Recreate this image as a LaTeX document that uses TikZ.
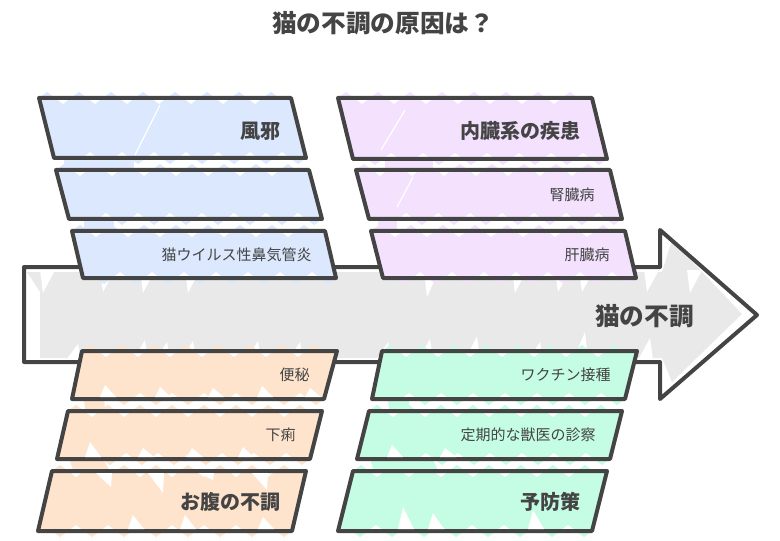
\documentclass[tikz,border=0pt]{standalone}
\usepackage{fontspec}
\setmainfont{Noto Sans CJK JP}
\usetikzlibrary{decorations.pathmorphing}
\definecolor{inkgray}{HTML}{444444}
\definecolor{coldblue}{HTML}{DBE8FE}
\definecolor{organpurple}{HTML}{F3E1FD}
\definecolor{bellyorange}{HTML}{FEE3CD}
\definecolor{caregreen}{HTML}{C5FDE4}
\definecolor{spinegray}{HTML}{E9E9E9}
\tikzset{
	scribble/.style={decorate,decoration={zigzag,segment length=24,amplitude=4.6}},
	outline/.style={draw=inkgray,line width=3pt,line join=round},
	headtext/.style={text=inkgray,font=\bfseries\fontsize{15}{15}\selectfont,anchor=east,inner sep=0pt},
	leaftext/.style={text=inkgray,font=\fontsize{11.25}{11.25}\selectfont,anchor=east,inner sep=0pt},
	gapline/.style={draw=white,line width=.9pt},
}
% one slanted box: colour, then corners tl tr br bl
\newcommand{\slantbox}[5]{
	\fill[white] #2 -- #3 -- #4 -- #5 -- cycle;
	\fill[#1] #2 decorate[scribble]{-- #3} -- #4 decorate[scribble]{-- #5} -- cycle;
	\draw[outline] #2 -- #3 -- #4 -- #5 -- cycle;
}
\begin{document}
\begin{tikzpicture}[x=.75pt,y=-.75pt]
	\useasboundingbox (0,0) rectangle (780,541);
	\node[text=inkgray,font=\bfseries\fontsize{18.5}{18.5}\selectfont,inner sep=0pt] (title) at (383,23) {猫の不調の原因は？};
	% spine
	\fill[spinegray] (27,272) -- (662,272) -- (672,240) -- (742,314) -- (672,382) -- (662,358) -- (40,358) -- (40,292) -- cycle;
	\foreach \x/\y in {43/293,103/292,143/293,188/293,427/297,515/293,558/292,582/292,647/292,690/293}
		\fill[white] (\x,\y) -- (\x-3,270) -- (\x+12,270) -- cycle;
	\foreach \x/\y in {78/344,145/340,167/342,193/341,258/341,300/342,388/342,430/339,477/336,540/342,585/332,650/338}
		\fill[white] (\x,\y) -- (\x-12,360) -- (\x+3,360) -- cycle;
	\draw[outline] (24,267) -- (660,267) -- (660,230) -- (757,315) -- (660,399) -- (660,362) -- (24,362) -- cycle;
	\node[text=inkgray,font=\bfseries\fontsize{18.5}{18.5}\selectfont,anchor=east,inner sep=0pt] (effect) at (694,316) {猫の不調};
	% stems between the boxes
	\fill[coldblue] (64,150) rectangle (134,175);
	\fill[coldblue] (84,212) rectangle (114,236);
	\fill[organpurple] (385,150) rectangle (433,175);
	\fill[organpurple] (378,212) rectangle (397,236);
	\fill[bellyorange] (83,392) -- (103,392) -- (106,416) -- (86,416) -- cycle;
	\fill[bellyorange] (67,452) -- (100,452) -- (112,476) -- (75,476) -- cycle;
	\fill[caregreen] (387,392) -- (408,392) -- (410,416) -- (390,416) -- cycle;
	\fill[caregreen] (368,452) -- (430,452) -- (440,476) -- (375,476) -- cycle;
	% causes
	\slantbox{coldblue}{(39,98)}{(291,98)}{(306,158)}{(54,158)}
	\slantbox{coldblue}{(56,170)}{(309,170)}{(322,219)}{(69,219)}
	\slantbox{coldblue}{(72,231)}{(325,231)}{(336,278)}{(83,278)}
	\slantbox{organpurple}{(338,98)}{(592,98)}{(607,159)}{(353,159)}
	\slantbox{organpurple}{(356,170)}{(610,170)}{(622,219)}{(369,219)}
	\slantbox{organpurple}{(371,231)}{(625,231)}{(636,278)}{(383,278)}
	\slantbox{bellyorange}{(82,351)}{(337,351)}{(324,399)}{(72,399)}
	\slantbox{bellyorange}{(68,411)}{(322,411)}{(310,459)}{(57,459)}
	\slantbox{bellyorange}{(52,471)}{(306,471)}{(292,531)}{(38,531)}
	\slantbox{caregreen}{(382,351)}{(637,351)}{(625,399)}{(372,399)}
	\slantbox{caregreen}{(369,411)}{(622,411)}{(610,459)}{(357,459)}
	\slantbox{caregreen}{(353,471)}{(607,471)}{(592,531)}{(338,531)}
	% gaps in the scribble
	\draw[gapline] (160,105) -- (135,155);
	\draw[gapline] (405,110) -- (381,150);
	\draw[gapline] (413,177) -- (397,207);
	\foreach \x/\y/\b in {105/385/397,160/387/397,213/388/397,262/386/397,310/388/397,
		90/442/457,143/448/457,192/448/457,243/447/457,
		133/515/529,185/515/529,263/517/529,
		403/507/529,433/513/529,533/510/529,392/445/457,445/448/457}
		\fill[white] (\x,\y) -- (\x-5,\b) -- (\x+11,\b) -- cycle;
	\foreach \x/\y in {111/487,163/493,213/480,267/490}
		\fill[white] (\x,\y) -- (\x-15,473) -- (\x+1,473) -- cycle;
	% labels
	\node[headtext] (cold) at (280.5,131) {風邪};
	\node[leaftext] (virus) at (312,255) {猫ウイルス性鼻気管炎};
	\node[headtext] (organ) at (580.5,131) {内臓系の疾患};
	\node[leaftext] (kidney) at (595,195) {腎臓病};
	\node[leaftext] (liver) at (610,255) {肝臓病};
	\node[leaftext] (constipation) at (310,375) {便秘};
	\node[leaftext] (diarrhea) at (296,435) {下痢};
	\node[headtext] (belly) at (280.5,502) {お腹の不調};
	\node[leaftext] (vaccine) at (611,375) {ワクチン接種};
	\node[leaftext] (checkup) at (596,435) {定期的な獣医の診察};
	\node[headtext] (care) at (580.5,502) {予防策};
\end{tikzpicture}
\end{document}
